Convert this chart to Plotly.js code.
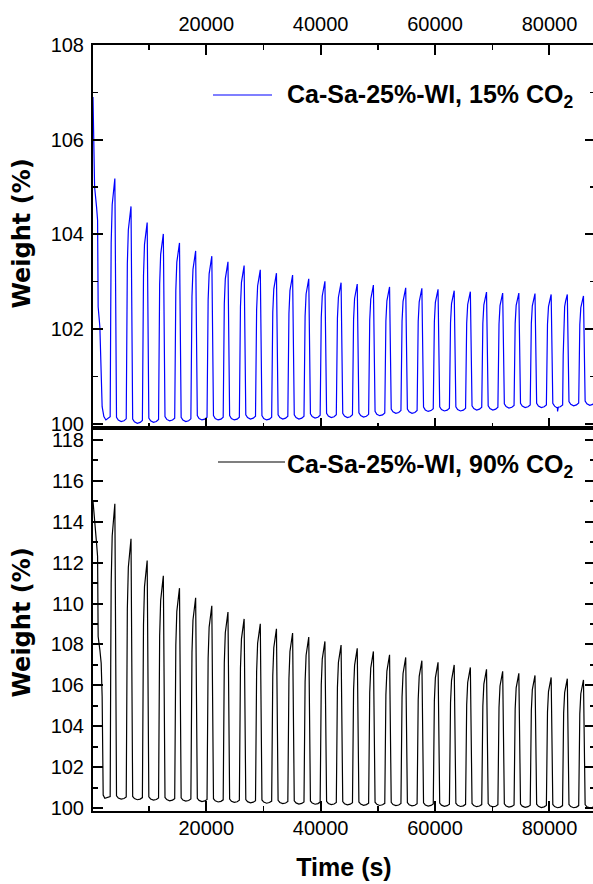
<!DOCTYPE html>
<html><head><meta charset="utf-8">
<script src="https://cdn.plot.ly/plotly-3.0.1.min.js"></script>
<style>html,body{margin:0;padding:0;overflow:hidden;background:#fff}#chart{width:596px;height:884px}</style>
</head><body><div id="chart"></div>
<script>
// ---- data ----
const peakTime = [4020, 6845, 9670, 12495, 15320, 18145, 20970, 23795, 26620, 29445,
  32270, 35095, 37920, 40745, 43570, 46395, 49220, 52045, 54870, 57695,
  60520, 63345, 66170, 68995, 71820, 74645, 77470, 80295, 83120, 85945];

const peakTop = [105.18, 104.59, 104.25, 104.01, 103.82, 103.65, 103.54, 103.42, 103.34, 103.25,
  103.18, 103.14, 103.06, 103.01, 102.98, 102.95, 102.93, 102.89, 102.87, 102.86,
  102.84, 102.81, 102.79, 102.78, 102.76, 102.76, 102.75, 102.73, 102.73, 102.70];
const troughTop = [100.045, 100.01, 100.03, 100.06, 100.045, 100.08, 100.08, 100.08, 100.10, 100.08,
  100.10, 100.10, 100.12, 100.13, 100.13, 100.14, 100.17, 100.22, 100.22, 100.26,
  100.27, 100.27, 100.29, 100.29, 100.33, 100.34, 100.34, 100.34, 100.38, 100.39];
const initTimeTop = [200, 300, 480, 820, 1000, 1100, 1400, 1800, 2100, 2450, 3150];
const initTop = [106.9, 106.0, 105.0, 104.58, 104.3, 102.47, 102.05, 100.36, 100.15, 100.08, 100.15];
const spikeTimeTop = [81290, 81415, 81540];
const spikeTop = [100.34, 100.26, 100.35];

const peakBottom = [114.87, 113.16, 112.10, 111.35, 110.75, 110.28, 109.89, 109.58, 109.25, 109.01,
  108.77, 108.56, 108.36, 108.15, 107.97, 107.81, 107.66, 107.50, 107.37, 107.21,
  107.13, 107.00, 106.88, 106.79, 106.69, 106.59, 106.49, 106.39, 106.33, 106.27];
const troughBottom = [100.45, 100.42, 100.40, 100.37, 100.35, 100.33, 100.31, 100.29, 100.27, 100.25,
  100.23, 100.21, 100.20, 100.18, 100.17, 100.15, 100.14, 100.13, 100.12, 100.11,
  100.10, 100.09, 100.08, 100.07, 100.06, 100.05, 100.04, 100.03, 100.03, 100.02];
const initTimeBottom = [200, 525, 820, 1000, 1100, 1400, 1630, 1800, 1920, 1980, 2270, 3150];
const initBottom = [115.0, 114.09, 112.95, 112.3, 108.39, 107.74, 107.09, 105.45, 102.2, 100.65, 100.49, 100.57];

// shape of one cycle (offsets in s, relative levels)
const uOffset = [290, 600, 1100, 1600, 1990];
const uShape = [1.0, 0.35, 0, 0.2, 0.65];
const riseOffset = [-816, -720, -641, -466, -300, -175];
const riseShape = [0, 0.45, 0.73, 0.89, 0.94, 0.975];
const uDepthTop = 0.09;
const uDepthBottom = 0.16;

const xTickVals = [20000, 40000, 60000, 80000];
const labelTop = '<b>Ca-Sa-25%-WI, 15% CO<sub>2</sub></b>';
const labelBottom = '<b>Ca-Sa-25%-WI, 90% CO<sub>2</sub></b>';
const yTitle = '<b>Weight (%)</b>';
const xTitle = '<b>Time (s)</b>';

// ---- build the traces ----
function build(initT, initW, peaks, troughs, uDepth, spT, spW) {
  const pts = initT.map((t, i) => [t, initW[i]]);
  let base = initW[initW.length - 1];
  for (let k = 0; k < peakTime.length; k++) {
    const Tn = peakTime[k], Pn = peaks[k];
    for (let j = 0; j < riseOffset.length; j++) pts.push([Tn + riseOffset[j], base + riseShape[j] * (Pn - base)]);
    pts.push([Tn, Pn]);
    const L = troughs[k];
    for (let j = 0; j < uOffset.length; j++) pts.push([Tn + uOffset[j], L + uShape[j] * uDepth]);
    base = L + 0.65 * uDepth;
  }
  if (spT) spT.forEach((t, i) => pts.push([t, spW[i]]));
  pts.sort((a, b) => a[0] - b[0]);
  return {x: pts.map(p => p[0]), y: pts.map(p => p[1])};
}
const seriesTop = build(initTimeTop, initTop, peakTop, troughTop, uDepthTop, spikeTimeTop, spikeTop);
const seriesBot = build(initTimeBottom, initBottom, peakBottom, troughBottom, uDepthBottom);

const FONT = 'Liberation Sans, Arial, sans-serif';
const YFONT = 'DejaVu Sans, Liberation Sans, sans-serif';
const data = [
  {x: seriesTop.x, y: seriesTop.y, xaxis: 'x', yaxis: 'y', mode: 'lines', line: {color: '#0000ff', width: 1.2}, showlegend: false},
  {x: seriesBot.x, y: seriesBot.y, xaxis: 'x2', yaxis: 'y2', mode: 'lines', line: {color: '#000000', width: 1.2}, showlegend: false}
];

const xCommon = {range: [200, 87960], tickvals: xTickVals, tickformat: 'd', ticks: 'inside', ticklen: 10, tickwidth: 2,
  minor: {dtick: 10000, tick0: 0, ticks: 'inside', ticklen: 5, tickwidth: 1.5, tickcolor: '#000'},
  showline: true, linewidth: 2, linecolor: '#000', tickcolor: '#000', showgrid: false, zeroline: false,
  tickfont: {family: FONT, size: 20, color: '#000'}};
const yCommon = {dtick: 2, tick0: 0, ticks: 'inside', ticklen: 10, tickwidth: 2,
  minor: {dtick: 1, tick0: 0, ticks: 'inside', ticklen: 5, tickwidth: 1.5, tickcolor: '#000'},
  showline: true, linewidth: 2, linecolor: '#000', tickcolor: '#000', showgrid: false, zeroline: false,
  mirror: 'allticks', ticklabelstandoff: 3, tickfont: {family: FONT, size: 20, color: '#000'}};

const layout = {
  width: 596, height: 884,
  margin: {l: 93, r: 1, t: 45, b: 73},
  paper_bgcolor: '#fff', plot_bgcolor: '#fff',
  font: {family: FONT, color: '#000'},
  xaxis: Object.assign({}, xCommon, {domain: [0, 1], anchor: 'y', side: 'top', mirror: 'allticks', ticklabelstandoff: 4}),
  yaxis: Object.assign({}, yCommon, {domain: [0.5, 1], anchor: 'x', range: [99.91, 108]}),
  xaxis2: Object.assign({}, xCommon, {domain: [0, 1], anchor: 'y2', side: 'bottom', mirror: true, ticklabelstandoff: -2,
    title: {text: xTitle, font: {family: FONT, size: 25, color: '#000'}, standoff: 20}}),
  yaxis2: Object.assign({}, yCommon, {domain: [0, 0.5], anchor: 'x2', range: [99.87, 118.57]}),
  shapes: [
    {type: 'line', xref: 'paper', yref: 'paper', x0: 0.239, x1: 0.3566, y0: 0.9347, y1: 0.9347, line: {color: '#0000ff', width: 1.2}},
    {type: 'line', xref: 'paper', yref: 'paper', x0: 0.249, x1: 0.3825, y0: 0.4556, y1: 0.4556, line: {color: '#000', width: 1.2}}
  ],
  annotations: [
    {xref: 'paper', yref: 'paper', x: 0.3825, y: 0.9335, xanchor: 'left', yanchor: 'middle', showarrow: false,
      text: labelTop, font: {family: FONT, size: 25, color: '#000'}},
    {xref: 'paper', yref: 'paper', x: 0.3825, y: 0.4504, xanchor: 'left', yanchor: 'middle', showarrow: false,
      text: labelBottom, font: {family: FONT, size: 25, color: '#000'}},
    {xref: 'paper', yref: 'paper', x: -0.1405, y: 0.7545, xanchor: 'center', yanchor: 'middle', textangle: -90, showarrow: false,
      text: yTitle, font: {family: YFONT, size: 24, color: '#000'}},
    {xref: 'paper', yref: 'paper', x: -0.1405, y: 0.2467, xanchor: 'center', yanchor: 'middle', textangle: -90, showarrow: false,
      text: yTitle, font: {family: YFONT, size: 24, color: '#000'}}
  ],
  showlegend: false
};
Plotly.newPlot('chart', data, layout, {staticPlot: true, displayModeBar: false});
</script></body></html>
